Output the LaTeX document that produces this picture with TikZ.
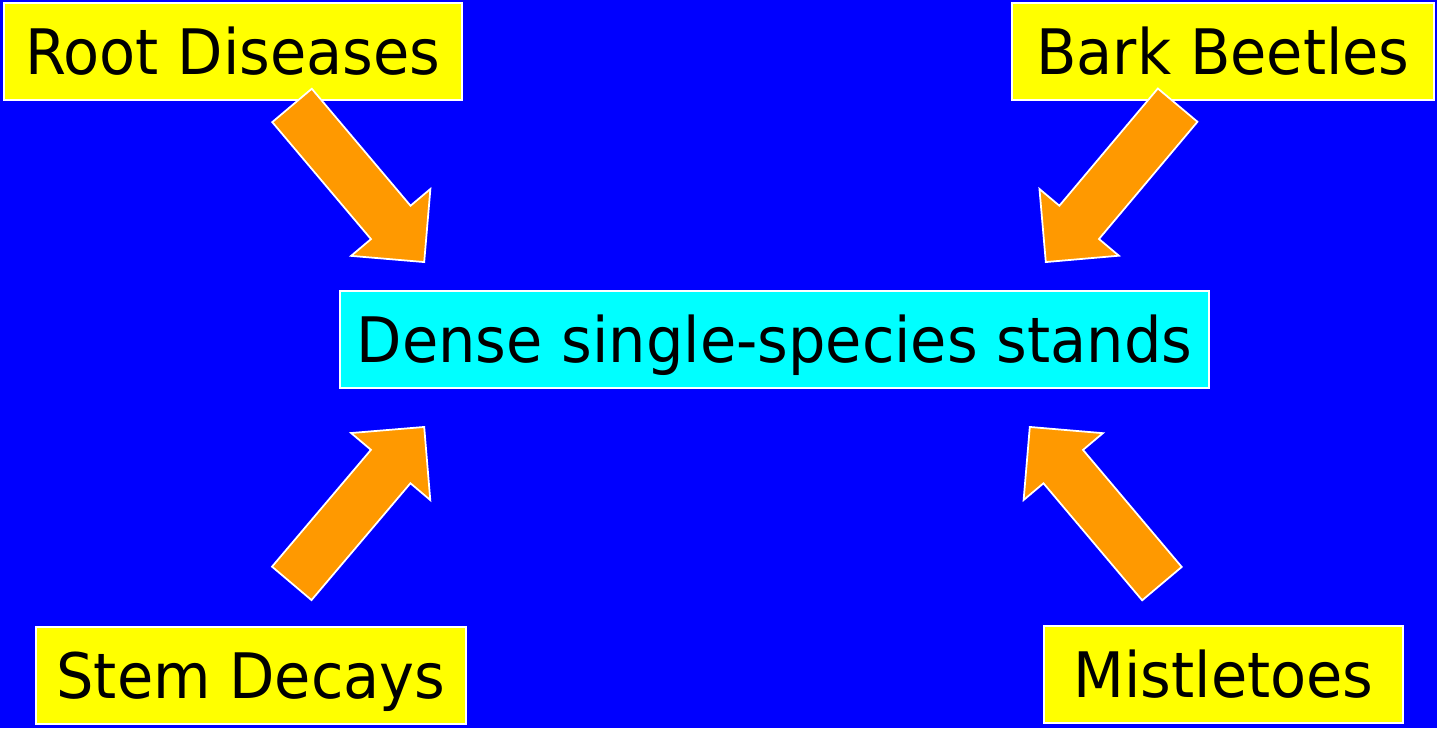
\documentclass[tikz,border=0pt]{standalone}
\usepackage{fontspec}
\setmainfont{DejaVu Sans Condensed}[FakeStretch=1.045]
\usepackage{xcolor}
\usetikzlibrary{shapes.arrows, calc}
\definecolor{bluebg}{HTML}{0000FF}
\definecolor{yellowx}{HTML}{FFFF00}
\definecolor{cyanx}{HTML}{00FFFF}
\definecolor{orangex}{HTML}{FF9900}

\begin{document}
\begin{tikzpicture}[
  x=0.02cm, y=-0.02cm,
  font=\fontsize{35.7}{40}\selectfont,
  cause/.style={rectangle, draw=white, line width=1pt, fill=yellowx, minimum height=1.94cm, inner sep=0pt, text height=26pt, text depth=0pt},
  effect/.style={cause, fill=cyanx},
  fat/.style={to path={(\tikztostart) -- (\tikztotarget)
    node[pos=1, sloped, allow upside down, anchor=tip, single arrow, draw=white, line width=1pt, fill=orangex,
         inner xsep=0pt, inner ysep=0.5cm, minimum height=4.1cm, single arrow head extend=0.52cm] {}}},
]
\fill[bluebg] (0,0) rectangle (1437,728);
\useasboundingbox (0,0) rectangle (1437,728);

\node[cause, minimum width=9.16cm] (rd) at (233,51.5) {Root Diseases};
\node[cause, minimum width=8.44cm] (bb) at (1223,51.5) {Bark Beetles};
\node[effect, minimum width=17.38cm] (dense) at (774.5,339.5) {Dense single-species stands};
\node[cause, minimum width=8.6cm] (sd) at (251,675.5) {Stem Decays};
\node[cause, minimum width=7.18cm] (ml) at (1223.5,674.5) {Mistletoes};

\coordinate (rd-tail) at (292.5,106);
\coordinate (rd-tip) at (425,263);
\coordinate (bb-tail) at (1176.5,106.5);
\coordinate (bb-tip) at (1045,263);
\coordinate (sd-tail) at (292.5,582.5);
\coordinate (sd-tip) at (425,426);
\coordinate (ml-tail) at (1161,582.5);
\coordinate (ml-tip) at (1029,426);

\path (rd-tail) to[fat] (rd-tip);
\path (bb-tail) to[fat] (bb-tip);
\path (sd-tail) to[fat] (sd-tip);
\path (ml-tail) to[fat] (ml-tip);
\end{tikzpicture}
\end{document}
